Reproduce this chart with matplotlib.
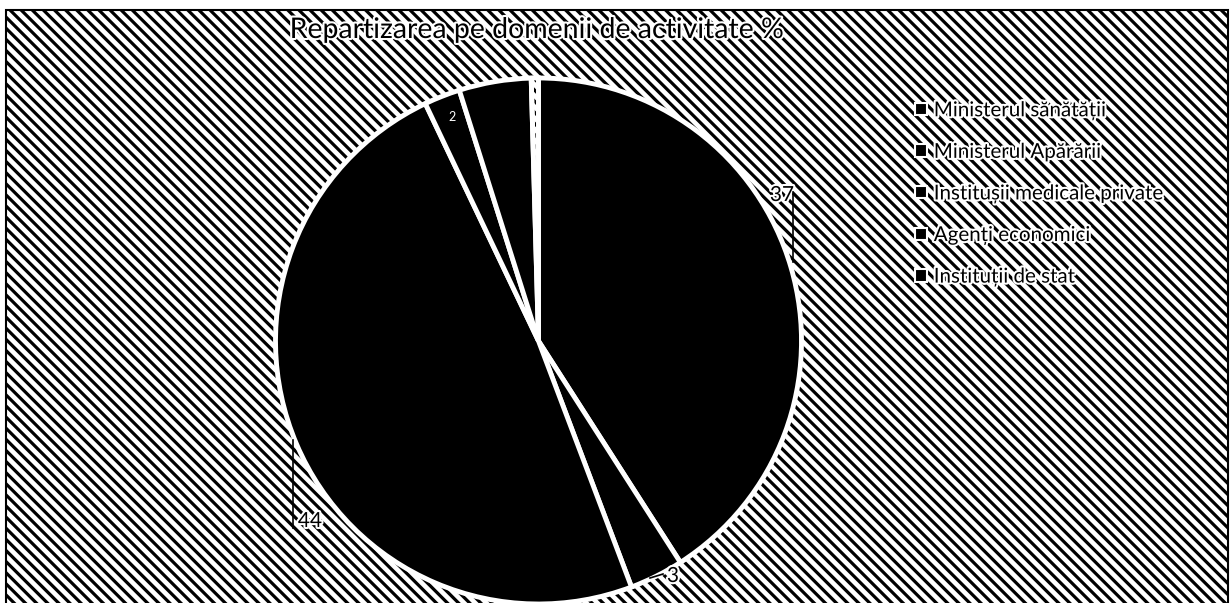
import matplotlib
matplotlib.use("Agg")
import matplotlib.pyplot as plt
import matplotlib.patheffects as pe
from matplotlib.patches import Rectangle

plt.rcParams['hatch.linewidth'] = 2.3
plt.rcParams['font.family'] = ['Lato', 'DejaVu Sans']

title = "Repartizarea pe domenii de activitate %"
categories = ["Ministerul sănătății", "Ministerul Apărării",
              "Institușii medicale private", "Agenți economici",
              "Instituții de stat"]
values = [37, 3, 44, 2, 4]
shown_labels = ["37", "3", "44", "2", ""]
unlabeled_gap = [0.4]   # thin hatched sliver visible at 12 o'clock

W, H = 1231, 603
fig = plt.figure(figsize=(W / 100, H / 100), dpi=100)
ax = fig.add_axes([0, 0, 1, 1])
ax.set_xlim(0, W)
ax.set_ylim(0, H)
ax.axis('off')

# hatched chart area
bg = Rectangle((6, -5), 1222, H - 10 + 5, facecolor='white', edgecolor='black',
               hatch='\\\\\\', linewidth=1.5, zorder=0)
ax.add_patch(bg)

halo = [pe.withStroke(linewidth=3, foreground='white')]

all_vals = values + unlabeled_gap
wedges, _ = ax.pie(all_vals, center=(538.5, H - 341), radius=263,
                   startangle=90, counterclock=False,
                   colors=['black'] * len(values) + ['none'],
                   wedgeprops=dict(edgecolor='white', linewidth=3.5),
                   frame=True)
ax.set_xlim(0, W)
ax.set_ylim(0, H)
ax.set_aspect('auto')
ax.axis('off')
for w in wedges:
    w.set_zorder(2)

# data labels
ax.text(782, H - 195, shown_labels[0], fontsize=15, ha='center', va='center',
        color='black', path_effects=halo, zorder=5)
ax.plot([793, 793], [H - 192, H - 262], color='black', lw=1.2, zorder=5)
ax.text(673, H - 576, shown_labels[1], fontsize=15, ha='center', va='center',
        color='black', path_effects=halo, zorder=5)
ax.plot([650, 663], [H - 578, H - 574], color='black', lw=1.2, zorder=5)
ax.text(310, H - 521, shown_labels[2], fontsize=15, ha='center', va='center',
        color='black', path_effects=halo, zorder=5)
ax.plot([293, 293], [H - 440, H - 528], color='black', lw=1.2, zorder=5)
ax.text(452, H - 117, shown_labels[3], fontsize=9, ha='center', va='center',
        color='white', zorder=5)

# title
ax.text(537, H - 30, title, fontsize=20.5, ha='center', va='center',
        color='black', path_effects=halo, zorder=5)

# legend
leg = ax.legend(wedges[:len(values)], categories, loc='upper left',
                bbox_to_anchor=(905 / W, 1 - 90 / H), frameon=False,
                fontsize=14.8, handlelength=0.55, handleheight=0.55,
                handletextpad=0.35, labelspacing=1.05, borderpad=0)
for t in leg.get_texts():
    t.set_path_effects(halo)
for h in leg.legend_handles:
    h.set_edgecolor('white')
    h.set_linewidth(1.5)
leg.set_zorder(6)

fig.savefig("out.png", dpi=100)
